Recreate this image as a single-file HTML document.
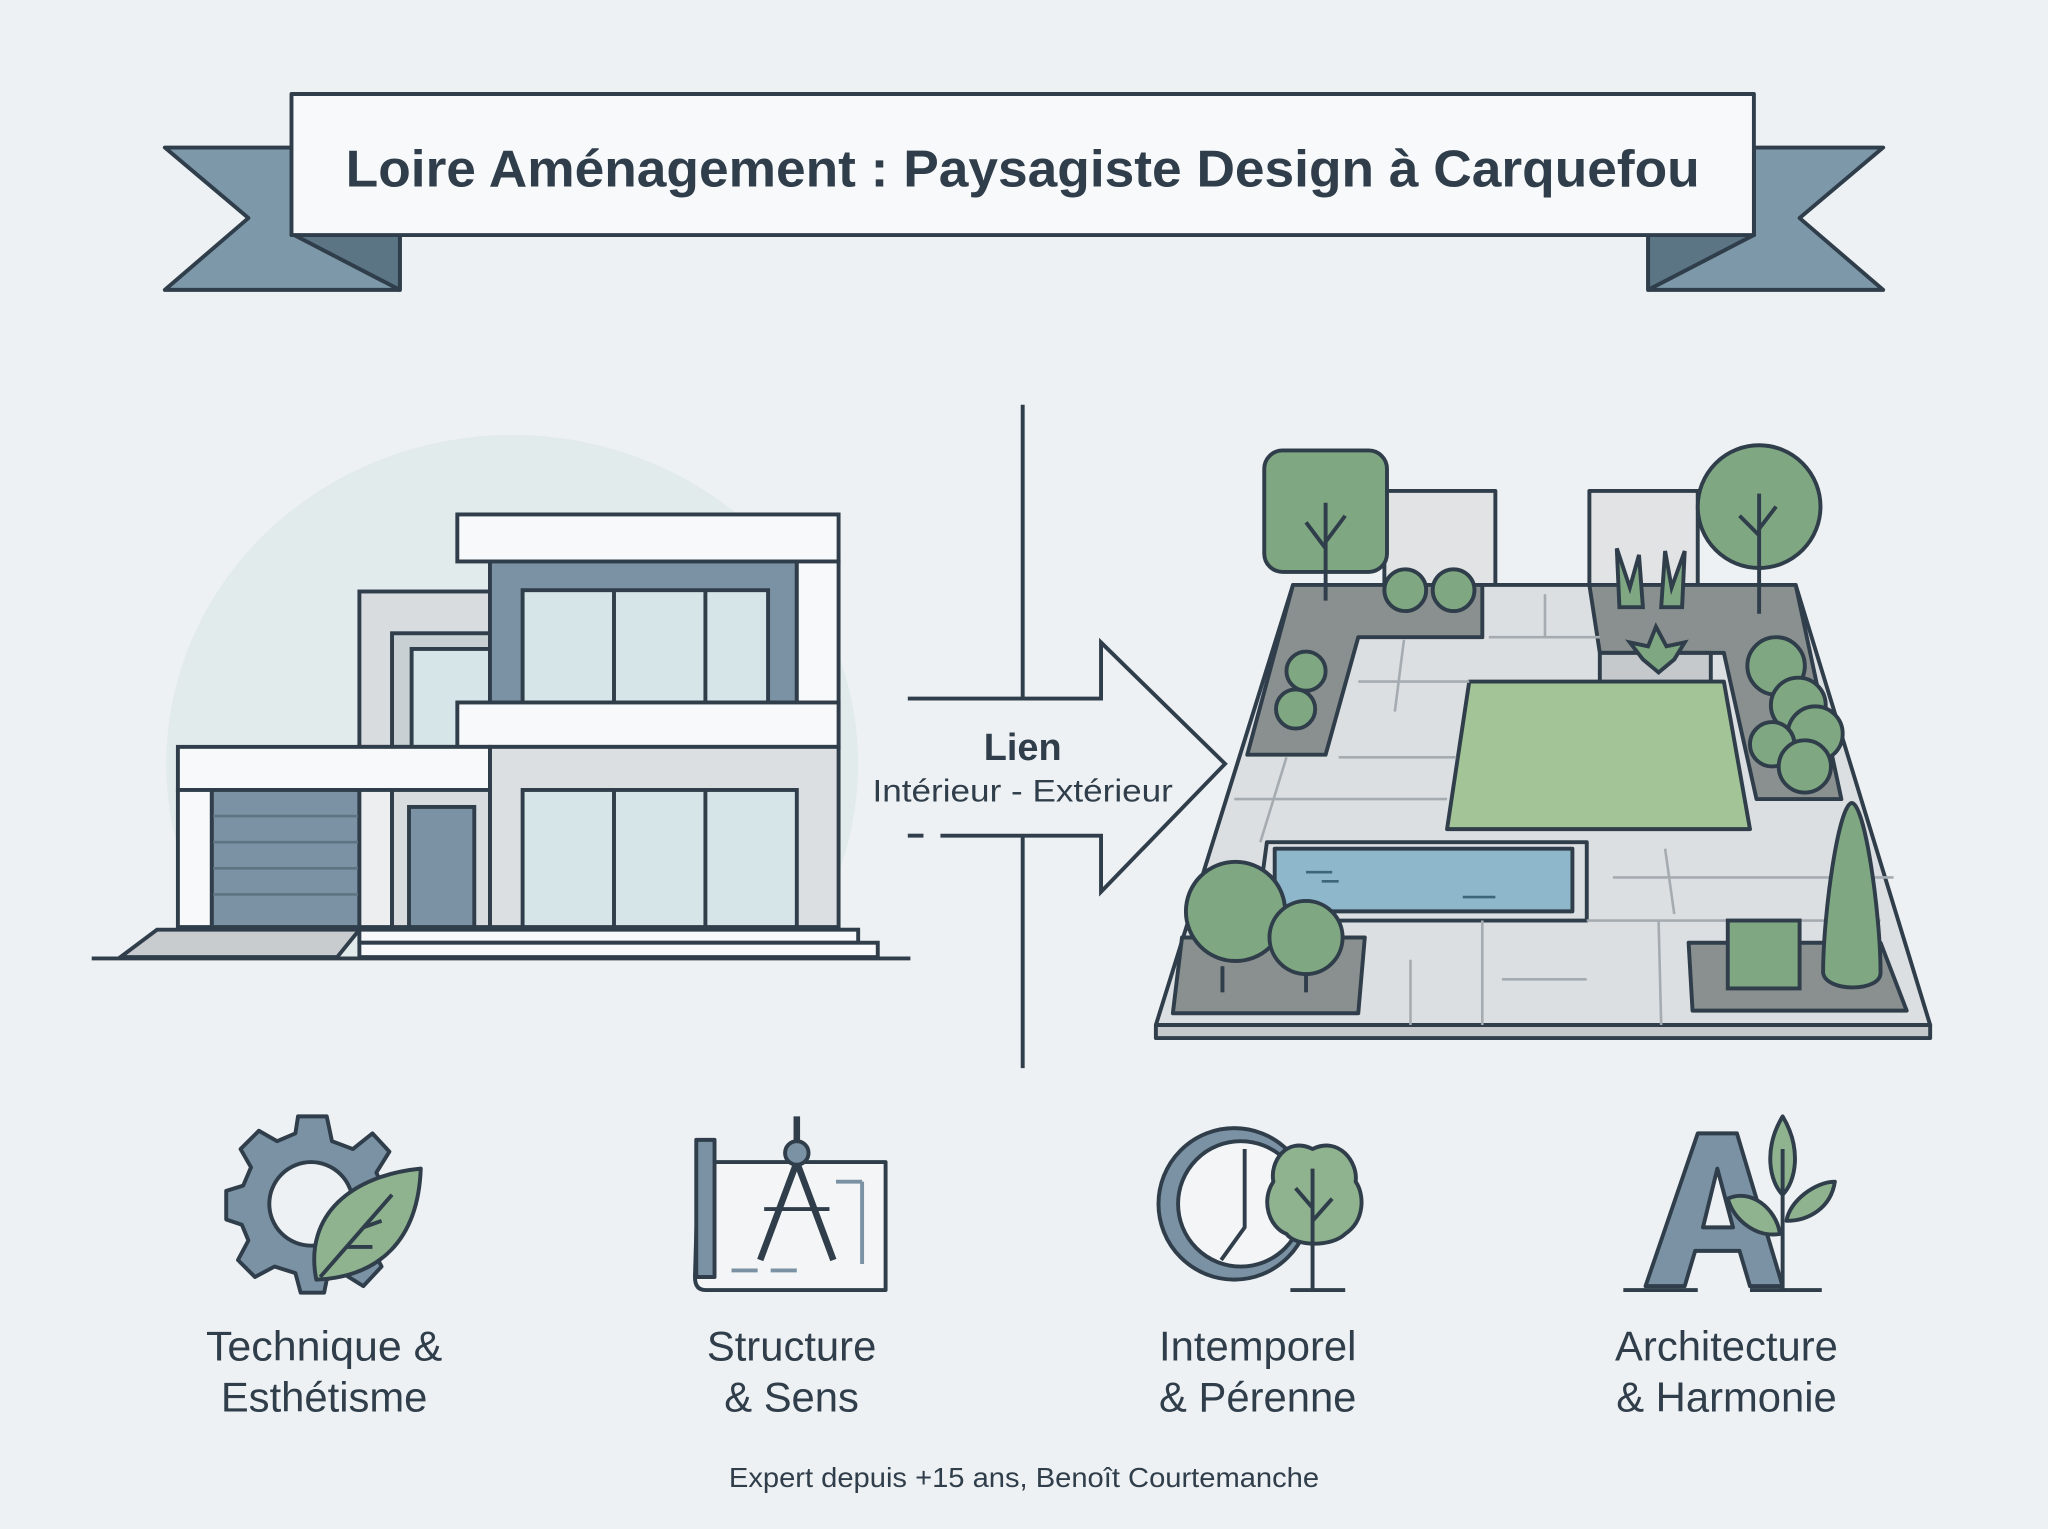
<!DOCTYPE html>
<html><head><meta charset="utf-8"><style>
html,body{margin:0;padding:0;background:#eef1f3;}
svg{display:block;}
text{font-family:"Liberation Sans",sans-serif;fill:#2f3e4a;}
</style></head><body>
<svg width="2048" height="1529" viewBox="0 0 1568 1171" xmlns="http://www.w3.org/2000/svg">
<defs><clipPath id="cc"><rect x="0" y="0" width="1568" height="734"/></clipPath></defs>
<rect width="1568" height="1171" fill="#eef1f3"/>
<g stroke="#2f3e4a" stroke-width="3" stroke-linejoin="round">
<polygon points="126,113 225,113 225,180 306,180 306,222 126,222 190,167" fill="#7d98a8"/>
<polygon points="225,180 306,180 306,222" fill="#5b7585"/>
<polygon points="1442,113 1343,113 1343,180 1262,180 1262,222 1442,222 1378,167" fill="#7d98a8"/>
<polygon points="1343,180 1262,180 1262,222" fill="#5b7585"/>
<rect x="223" y="72" width="1120" height="108" fill="#f8f9fa"/>
</g>
<text x="783" y="143" font-size="40" font-weight="bold" text-anchor="middle" textLength="1037" lengthAdjust="spacingAndGlyphs">Loire Aménagement : Paysagiste Design à Carquefou</text>

<ellipse cx="392" cy="585" rx="265" ry="252" fill="#e2ebeb" clip-path="url(#cc)"/>
<g stroke="#2f3e4a" stroke-width="3">
<rect x="275" y="453" width="100" height="119" fill="#d9dcdf"/>
<rect x="300" y="485" width="75" height="87" fill="#c9d0d4"/>
<rect x="315" y="497" width="60" height="75" fill="#d6e6e8"/>
<rect x="375" y="428" width="235" height="112" fill="#7a92a3"/>
<rect x="400" y="452" width="188" height="86" fill="#d6e6e8"/>
<line x1="470" y1="452" x2="470" y2="538"/><line x1="540" y1="452" x2="540" y2="538"/>
<rect x="350" y="394" width="292" height="36" fill="#f8f9fa"/>
<rect x="610" y="430" width="32" height="142" fill="#f8f9fa"/>
<rect x="350" y="538" width="292" height="34" fill="#f8f9fa"/>
<rect x="375" y="572" width="267" height="138" fill="#dcdfe2"/>
<rect x="400" y="605" width="210" height="105" fill="#d6e6e8"/>
<line x1="470" y1="605" x2="470" y2="710"/><line x1="540" y1="605" x2="540" y2="710"/>
<rect x="136" y="572" width="239" height="33" fill="#f8f9fa"/>
<rect x="136" y="605" width="26" height="105" fill="#f8f9fa"/>
<rect x="162" y="605" width="113" height="105" fill="#7a92a3"/>
<rect x="275" y="605" width="25" height="105" fill="#eceeef"/>
<rect x="300" y="605" width="75" height="105" fill="#d9dcdf"/>
<rect x="313" y="618" width="50" height="92" fill="#7a92a3"/>
<polygon points="92,733 120,712 275,712 258,733" fill="#c9cccf"/>
<rect x="275" y="712" width="382" height="10" fill="#f8f9fa"/>
<rect x="275" y="722" width="397" height="11" fill="#f8f9fa"/>
<line x1="70" y1="734" x2="697" y2="734"/>
</g>
<g stroke="#5f7483" stroke-width="2"><line x1="163" y1="625" x2="274" y2="625"/><line x1="163" y1="645" x2="274" y2="645"/><line x1="163" y1="665" x2="274" y2="665"/><line x1="163" y1="685" x2="274" y2="685"/></g>

<g stroke="#2f3e4a" stroke-width="3" fill="none">
<line x1="783" y1="310" x2="783" y2="535"/><line x1="783" y1="640" x2="783" y2="818"/>
<path d="M695,535 H843 V492 L938,585 L843,683 V640 H720"/>
<line x1="695" y1="640" x2="707" y2="640"/>
</g>
<text x="783" y="582" font-size="29" font-weight="bold" text-anchor="middle">Lien</text>
<text x="783" y="614" font-size="24" text-anchor="middle" textLength="230" lengthAdjust="spacingAndGlyphs">Intérieur - Extérieur</text>

<g stroke="#2f3e4a" stroke-width="3" stroke-linejoin="round">
<rect x="1060" y="376" width="85" height="72" fill="#e1e3e5"/>
<rect x="1217" y="376" width="83" height="72" fill="#e1e3e5"/>
<polygon points="885,785 1478,785 1478,795 885,795" fill="#c5c9cc"/>
<polygon points="990,448 1375,448 1478,785 885,785" fill="#dcdfe2"/>
<polygon points="990,448 1135,448 1135,488 1040,488 1015,578 955,578" fill="#8a908f"/>
<polygon points="1217,448 1375,448 1410,612 1345,612 1320,500 1225,500" fill="#8a908f"/>
<rect x="1225" y="500" width="85" height="26" fill="#c5c9cc"/>
<polygon points="1125,522 1320,522 1340,635 1108,635" fill="#a3c496"/>
<polygon points="970,645 1215,645 1215,705 962,705" fill="#dcdfe2"/>
<rect x="976" y="650" width="228" height="48" fill="#8fb7cb"/>
<polygon points="905,718 1045,718 1040,776 898,776" fill="#8a908f"/>
<polygon points="1293,722 1440,722 1460,774 1296,774" fill="#8a908f"/>
</g>
<g stroke="#a5acb1" stroke-width="2" fill="none">
<line x1="1040" y1="522" x2="1125" y2="522"/><line x1="1025" y1="580" x2="1115" y2="580"/><line x1="945" y1="612" x2="1108" y2="612"/>
<line x1="1140" y1="488" x2="1225" y2="488"/><line x1="1183" y1="455" x2="1183" y2="488"/><line x1="1075" y1="490" x2="1068" y2="545"/>
<line x1="1235" y1="672" x2="1450" y2="672"/><line x1="1275" y1="650" x2="1282" y2="700"/><line x1="1215" y1="705" x2="1440" y2="705"/>
<line x1="1135" y1="705" x2="1135" y2="785"/><line x1="1150" y1="750" x2="1215" y2="750"/><line x1="1080" y1="735" x2="1080" y2="785"/>
<line x1="1270" y1="705" x2="1272" y2="785"/><line x1="985" y1="580" x2="965" y2="645"/>
</g>
<g stroke="#3f6578" stroke-width="2"><line x1="1000" y1="668" x2="1020" y2="668"/><line x1="1012" y1="675" x2="1025" y2="675"/><line x1="1120" y1="687" x2="1145" y2="687"/></g>
<g stroke="#2f3e4a" stroke-width="3" fill="#7fa882">
<rect x="968" y="345" width="94" height="93" rx="14"/>
<path d="M1015,385 V460 M1015,420 L1000,400 M1015,415 L1030,395" fill="none"/>
<circle cx="1076" cy="452" r="16"/><circle cx="1113" cy="452" r="16"/>
<circle cx="1000" cy="514" r="15"/><circle cx="992" cy="543" r="15"/>
<circle cx="1347" cy="388" r="47"/>
<path d="M1347,378 V470 M1347,410 L1332,395 M1347,405 L1360,388" fill="none"/>
<path d="M1240,465 L1238,420 L1248,450 L1255,425 L1258,465 Z M1272,465 L1275,422 L1280,450 L1290,422 L1288,465 Z"/>
<path d="M1268,480 L1262,495 L1248,492 L1258,505 L1270,515 L1282,505 L1290,492 L1276,495 Z"/>
<circle cx="1360" cy="510" r="22"/><circle cx="1377" cy="540" r="21"/><circle cx="1390" cy="562" r="21"/><circle cx="1357" cy="570" r="17"/><circle cx="1382" cy="587" r="20"/>
<circle cx="946" cy="698" r="38"/><circle cx="1000" cy="718" r="28"/>
<line x1="936" y1="740" x2="936" y2="760"/><line x1="1000" y1="745" x2="1000" y2="760"/>
<rect x="1323" y="705" width="55" height="52"/>
<path d="M1418,615 C1428,615 1440,700 1440,745 C1440,760 1398,760 1396,745 C1396,700 1408,615 1418,615 Z"/>
</g>

<g stroke="#2f3e4a" stroke-width="3" stroke-linejoin="round">
<path d="M228,855 H250 L254,874 L270,880 L285,868 L298,882 L288,898 L294,912 L300,912 V935 L290,938 L284,955 L292,970 L278,985 L262,975 L250,980 L248,990 H230 L226,975 L210,970 L195,978 L182,965 L190,950 L185,938 L173,934 V912 L186,908 L192,894 L184,880 L198,866 L212,874 L226,868 Z" fill="#7a92a3"/>
<circle cx="238" cy="922" r="32" fill="#eef1f3"/>
<path d="M242,980 C232,930 270,900 322,895 C320,950 290,978 242,980 Z" fill="#8fb38e"/>
<path d="M245,978 L300,915 M265,955 L285,955 M278,940 L292,935" fill="none"/>
<path d="M535,875 H545 V890 H678 V988 H540 Q532,988 532,978 Z" fill="#f4f5f6"/>
<rect x="533" y="873" width="14" height="105" fill="#7a92a3"/>
<path d="M610,855 V875 M610,890 L582,965 M610,890 L638,965" fill="none" stroke-width="5"/>
<circle cx="610" cy="883" r="9" fill="#7a92a3"/>
<line x1="585" y1="926" x2="635" y2="926"/>
<g stroke="#7a92a3"><line x1="640" y1="905" x2="660" y2="905"/><line x1="660" y1="905" x2="660" y2="968"/><line x1="560" y1="973" x2="580" y2="973"/><line x1="590" y1="973" x2="610" y2="973"/></g>
<circle cx="945" cy="922" r="58" fill="#7a92a3"/>
<circle cx="950" cy="922" r="48" fill="#f4f5f6"/>
<path d="M953,880 V940 L935,965" fill="none"/>
<path d="M1005,880 C985,870 972,890 975,905 C965,920 972,940 985,945 C992,955 1020,955 1030,945 C1045,935 1045,915 1038,905 C1040,890 1025,870 1005,880 Z" fill="#8fb38e"/>
<path d="M1005,895 V988 M1005,925 L992,910 M1005,935 L1020,918 M988,988 H1030" fill="none"/>
<path d="M1260,985 L1300,868 H1330 L1365,985 H1340 L1332,958 H1298 L1290,985 Z" fill="#7a92a3"/>
<path d="M1304,940 H1327 L1315,895 Z" fill="#eef1f3"/>
<line x1="1243" y1="988" x2="1300" y2="988"/><line x1="1340" y1="988" x2="1395" y2="988"/>
<path d="M1365,855 C1350,880 1355,905 1365,915 C1375,905 1380,880 1365,855 Z M1323,918 C1340,910 1360,925 1363,945 C1345,948 1328,935 1323,918 Z M1405,905 C1390,905 1370,920 1368,935 C1385,935 1402,925 1405,905 Z" fill="#8fb38e"/>
<line x1="1365" y1="880" x2="1365" y2="988"/>
</g>
<g font-size="32" text-anchor="middle">
<text x="248" y="1042" textLength="181" lengthAdjust="spacingAndGlyphs">Technique &amp;</text><text x="248" y="1081">Esthétisme</text>
<text x="606" y="1042">Structure</text><text x="606" y="1081">&amp; Sens</text>
<text x="963" y="1042">Intemporel</text><text x="963" y="1081">&amp; Pérenne</text>
<text x="1322" y="1042">Architecture</text><text x="1322" y="1081">&amp; Harmonie</text>
</g>
<text x="784" y="1139" font-size="21" text-anchor="middle" textLength="452" lengthAdjust="spacingAndGlyphs">Expert depuis +15 ans, Benoît Courtemanche</text>
</svg>
</body></html>
